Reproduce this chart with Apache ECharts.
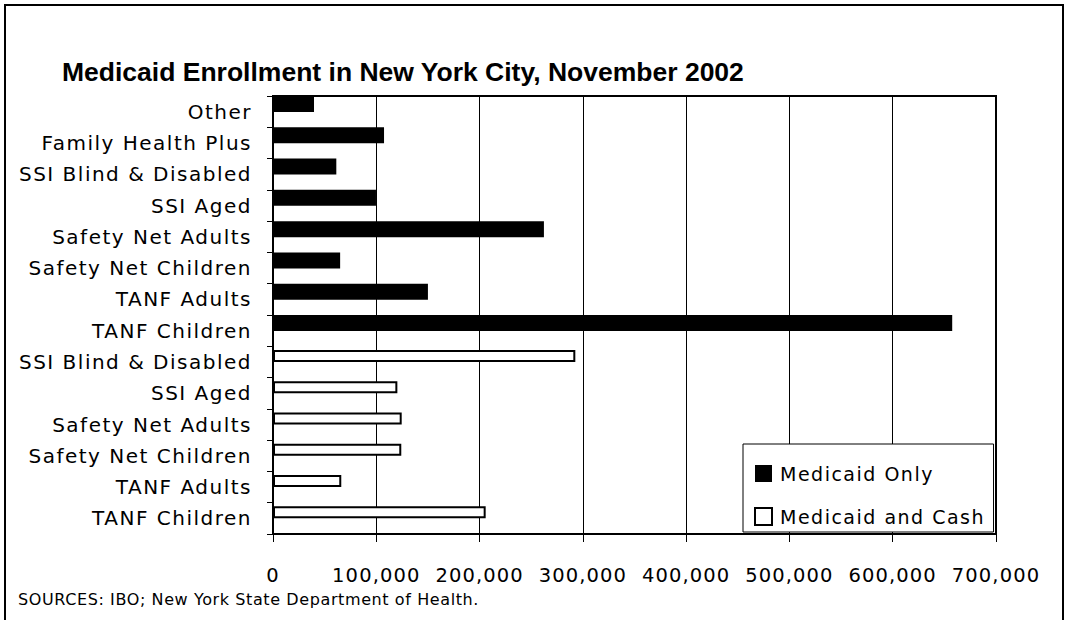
<!DOCTYPE html>
<html><head><meta charset="utf-8">
<script src="https://cdn.jsdelivr.net/npm/echarts@6/dist/echarts.min.js"></script>
<style>
html,body{margin:0;padding:0;background:#fff}
#c{width:1065px;height:620px}
#c svg text[style*="20px"]{letter-spacing:1.5px}
#c svg text[style*="19.5px"]{letter-spacing:1.1px}
#c svg text[style*="19px"]{letter-spacing:1.5px}
#c svg text[style*="16px"]{letter-spacing:0.6px}
#c svg text[style*="bold"]{letter-spacing:0}
</style>
</head><body><div id="c"></div>
<script>
// categories from bottom to top
const categories = ["TANF Children","TANF Adults","Safety Net Children","Safety Net Adults","SSI Aged","SSI Blind & Disabled",
  "TANF Children","TANF Adults","Safety Net Children","Safety Net Adults","SSI Aged","SSI Blind & Disabled","Family Health Plus","Other"];
const medicaidOnly = [null,null,null,null,null,null,657600,150000,65000,262300,99700,61300,107500,39700];
const medicaidAndCash = [205900,66100,124200,124600,120400,292700,null,null,null,null,null,null,null,null];
const xTicks = [0,100000,200000,300000,400000,500000,600000,700000];
const emptySlot = categories.map(() => null);

const font = "DejaVu Sans";
const chart = echarts.init(document.getElementById('c'), null, {renderer:'svg'});
chart.setOption({
  animation:false,
  title:{text:"Medicaid Enrollment in New York City, November 2002",left:57,top:53,
    textStyle:{fontFamily:"Liberation Sans",fontWeight:"bold",fontSize:26.5,color:"#000"}},
  graphic:[
    {type:'rect',shape:{x:5,y:5,width:1058,height:650},style:{fill:null,stroke:'#000',lineWidth:2},silent:true},
    {type:'text',left:18,top:591,style:{text:"SOURCES: IBO; New York State Department of Health.",font:"16px 'DejaVu Sans'",fill:'#000'}}
  ],
  legend:{orient:'vertical',left:743,top:444,backgroundColor:'#fff',borderColor:'#000',borderWidth:1,
    padding:[20,34,6,11],itemGap:24,itemWidth:17,itemHeight:17,
    textStyle:{fontFamily:font,fontSize:19,color:'#000',padding:[0,0,0,3]},
    data:[{name:'Medicaid Only',icon:'rect'},{name:'Medicaid and Cash',icon:'rect'}]},
  grid:{left:273,right:69,top:96,bottom:86,show:true,borderColor:'#000',borderWidth:2,backgroundColor:'transparent'},
  xAxis:{type:'value',min:xTicks[0],max:xTicks[xTicks.length-1],interval:100000,
    axisLine:{show:true,lineStyle:{color:'#000',width:2}},
    axisTick:{show:true,length:8,lineStyle:{color:'#000'}},
    splitLine:{show:true,lineStyle:{color:'#000',width:1}},
    axisLabel:{margin:31,fontFamily:font,fontSize:19.5,color:'#000',formatter:v=>v.toLocaleString('en-US')}},
  yAxis:[
    {type:'category',data:categories,
      axisLine:{show:true,lineStyle:{color:'#000',width:2}},
      axisTick:{show:true,length:6,lineStyle:{color:'#000'}},
      axisLabel:{margin:21,fontFamily:font,fontSize:20,color:'#000',interval:0}},
    {type:'category',data:categories,show:false}
  ],
  series:[
    {name:'Medicaid Only',type:'bar',yAxisIndex:0,data:medicaidOnly,barWidth:16,barGap:0,
      itemStyle:{color:'#000',borderWidth:0}},
    {name:'spacer0',type:'bar',yAxisIndex:0,data:emptySlot,barWidth:15.3,barGap:0,silent:true,itemStyle:{color:'transparent'}},
    {name:'Medicaid and Cash',type:'bar',yAxisIndex:1,data:medicaidAndCash,barWidth:12,barGap:0,
      itemStyle:{color:'#fff',borderColor:'#000',borderWidth:2}},
    {name:'spacer1',type:'bar',yAxisIndex:1,data:emptySlot,barWidth:12.1,barGap:0,silent:true,itemStyle:{color:'transparent'}}
  ]
});
</script></body></html>
